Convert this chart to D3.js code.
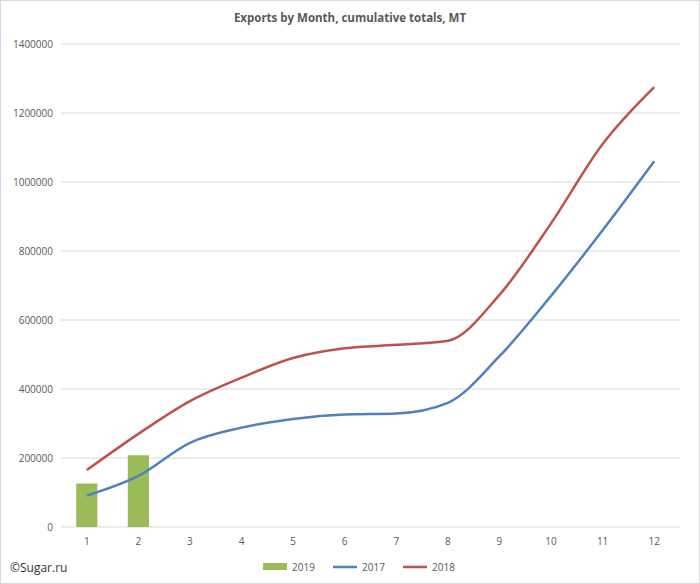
<!DOCTYPE html>
<html><head><meta charset="utf-8">
<script src="https://cdn.jsdelivr.net/npm/d3@7"></script>
<style>body{margin:0;background:#fff;font-family:"Open Sans",Calibri,sans-serif;}</style>
</head><body><div id="chart"></div>
<script>
const months = [1,2,3,4,5,6,7,8,9,10,11,12];
const exports2019 = [126000, 208000];
const exports2017 = [91000,148000,244000,288000,313000,326000,329000,360000,495000,670000,860000,1060000];
const exports2018 = [165000,270000,365000,433000,490000,518000,528000,540000,673000,880000,1110000,1275000];
const yTicks = [0,200000,400000,600000,800000,1000000,1200000,1400000];

const W = 700, H = 584;
const margin = {top: 44, right: 20, bottom: 57, left: 61};
const width = W - margin.left - margin.right;
const height = H - margin.top - margin.bottom;

const svg = d3.select('#chart').append('svg').attr('width', W).attr('height', H);
svg.append('rect').attr('x',0.5).attr('y',0.5).attr('width',W-1).attr('height',H-1)
    .attr('fill','#fff').attr('stroke','#d9d9d9');
const g = svg.append('g').attr('transform', `translate(${margin.left},${margin.top})`);

const x = d3.scaleBand().domain(months).range([0, width]).padding(0);
const y = d3.scaleLinear().domain([0, 1400000]).range([height, 0]);

// gridlines
g.selectAll('.grid').data(yTicks).enter().append('line')
    .attr('x1', 0).attr('x2', width)
    .attr('y1', d => y(d)).attr('y2', d => y(d))
    .attr('stroke', '#d9d9d9');

// y labels
g.selectAll('.ylab').data(yTicks).enter().append('text')
    .attr('x', -8).attr('y', d => y(d)).attr('dy', '0.35em')
    .attr('text-anchor', 'end').attr('font-size', 10).attr('fill', '#595959')
    .text(d => d);

// x labels
g.selectAll('.xlab').data(months).enter().append('text')
    .attr('x', d => x(d) + x.bandwidth()/2).attr('y', height + 18)
    .attr('text-anchor', 'middle').attr('font-size', 10).attr('fill', '#595959')
    .text(d => d);

// bars 2019, centred on the month
const barW = x.bandwidth()*0.41;
g.selectAll('.bar').data(exports2019).enter().append('rect')
    .attr('x', (d, i) => x(months[i]) + (x.bandwidth() - barW)/2)
    .attr('width', barW)
    .attr('y', d => y(d)).attr('height', d => height - y(d))
    .attr('fill', '#9bbb59');

const line = d3.line()
    .x((d, i) => x(months[i]) + x.bandwidth()/2)
    .y(d => y(d))
    .curve(d3.curveMonotoneX);

g.append('path').datum(exports2017).attr('d', line)
    .attr('fill', 'none').attr('stroke', '#4f81bd').attr('stroke-width', 2.5);
g.append('path').datum(exports2018).attr('d', line)
    .attr('fill', 'none').attr('stroke', '#c0504d').attr('stroke-width', 2.5);

// title
svg.append('text').attr('x', 350).attr('y', 22).attr('text-anchor', 'middle')
    .attr('font-size', 11.5).attr('font-weight', 'bold').attr('fill', '#595959')
    .text('Exports by Month, cumulative totals, MT');

// legend
const lg = svg.append('g').attr('transform', 'translate(263,567)');
lg.append('rect').attr('x', 0).attr('y', -4).attr('width', 24).attr('height', 7).attr('fill', '#9bbb59');
lg.append('text').attr('x', 29).attr('y', 0).attr('dy','0.35em').attr('font-size', 10).attr('fill','#595959').text('2019');
lg.append('line').attr('x1', 70).attr('x2', 94).attr('y1', 0).attr('y2', 0).attr('stroke', '#4f81bd').attr('stroke-width', 2.5);
lg.append('text').attr('x', 99).attr('y', 0).attr('dy','0.35em').attr('font-size', 10).attr('fill','#595959').text('2017');
lg.append('line').attr('x1', 140).attr('x2', 164).attr('y1', 0).attr('y2', 0).attr('stroke', '#c0504d').attr('stroke-width', 2.5);
lg.append('text').attr('x', 169).attr('y', 0).attr('dy','0.35em').attr('font-size', 10).attr('fill','#595959').text('2018');

// watermark
svg.append('text').attr('x', 10).attr('y', 572).attr('font-size', 12).attr('fill', '#333')
    .text('©Sugar.ru');
</script></body></html>
